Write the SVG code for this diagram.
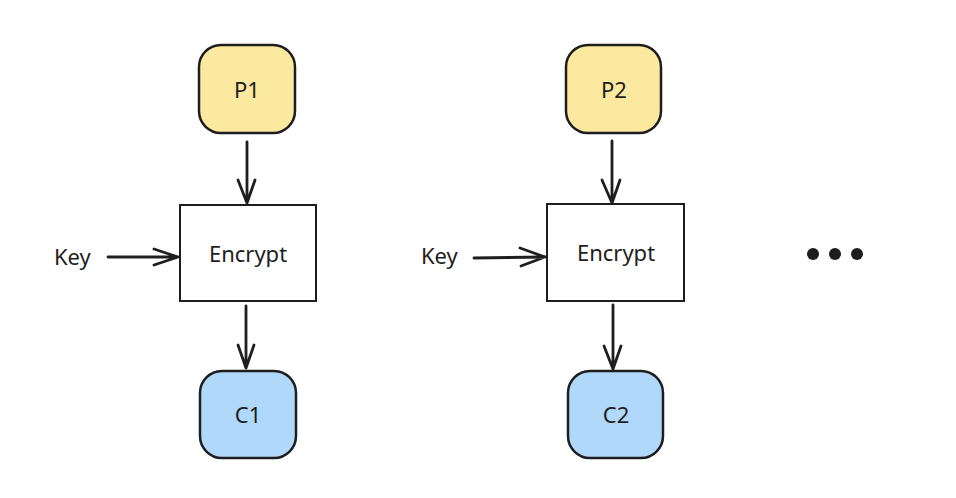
<svg xmlns="http://www.w3.org/2000/svg" width="956" height="498" viewBox="0 0 956 498">
<defs>
<style>
.p{fill:#fbe9a0;stroke:#1e1e1e;stroke-width:2.5}
.c{fill:#b0d8fb;stroke:#1e1e1e;stroke-width:2.5}
.e{fill:#ffffff;stroke:#1e1e1e;stroke-width:2}
.t{font-family:"Noto Sans","Liberation Sans",sans-serif;font-size:22px;fill:#1e1e1e;text-anchor:middle;dominant-baseline:central}
.k{font-family:"Noto Sans","Liberation Sans",sans-serif;font-size:22px;fill:#1e1e1e;dominant-baseline:central}
.l{fill:none;stroke:#1e1e1e;stroke-width:2.8;stroke-linecap:round;stroke-linejoin:round}
</style>
</defs>
<rect width="956" height="498" fill="#ffffff"/>
<g id="P1"><rect class="p" x="199" y="45" width="96" height="88" rx="22"/><text class="t" x="247" y="89">P1</text></g>
<g id="Enc1"><rect class="e" x="180" y="205" width="136" height="96"/><text class="t" x="248" y="253">Encrypt</text></g>
<g id="C1"><rect class="c" x="200" y="371" width="96" height="87" rx="22"/><text class="t" x="248" y="414">C1</text></g>
<g id="Key1"><text class="k" x="54" y="256">Key</text></g>
<g id="P2"><rect class="p" x="566" y="45" width="95" height="88" rx="22"/><text class="t" x="614" y="89">P2</text></g>
<g id="Enc2"><rect class="e" x="547" y="204" width="137" height="97"/><text class="t" x="616" y="252">Encrypt</text></g>
<g id="C2"><rect class="c" x="568" y="371" width="95" height="87" rx="22"/><text class="t" x="616" y="414">C2</text></g>
<g id="Key2"><text class="k" x="421" y="255">Key</text></g>
<g id="dots" fill="#1e1e1e"><circle cx="813" cy="254" r="6"/><circle cx="835" cy="254" r="6"/><circle cx="857" cy="254" r="6"/></g>
<g id="connectors">
<path class="l" d="M247 142 L247 203 M238 180 L247 203 L255 180"/>
<path class="l" d="M246 306 L246 368 M238 345 L246 368 L254 345"/>
<path class="l" d="M108 257 L178 257 M154 249 L178 257 L154 265"/>
<path class="l" d="M612 141 L612 203 M602 180 L612 203 L620 180"/>
<path class="l" d="M613 305 L613 369 M604 346 L613 369 L621 346"/>
<path class="l" d="M474 258 L545 257 M520 248 L545 257 L521 266"/>
</g>
</svg>
